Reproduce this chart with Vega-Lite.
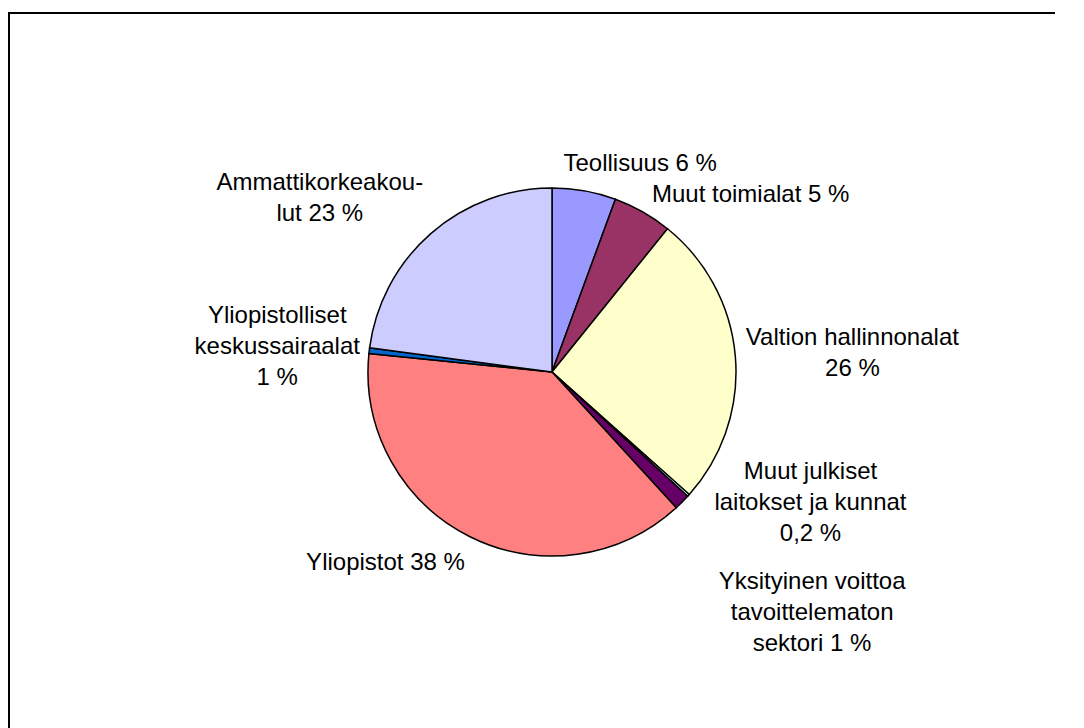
{
  "$schema": "https://vega.github.io/schema/vega-lite/v6.json",
  "width": 1086,
  "height": 718,
  "autosize": {"type": "none"},
  "padding": {"left": 9, "top": 13, "right": -40, "bottom": -3},
  "background": "white",
  "view": {"stroke": "black", "strokeWidth": 2, "fill": "white"},
  "data": {
    "values": [
      {"i": 1, "cat": "Teollisuus", "value": 5.6, "label": "Teollisuus 6 %"},
      {"i": 2, "cat": "Muut toimialat", "value": 5.2, "label": "Muut toimialat 5 %"},
      {"i": 3, "cat": "Valtion hallinnonalat", "value": 25.8, "label": "Valtion hallinnonalat\n26 %"},
      {"i": 4, "cat": "Muut julkiset laitokset ja kunnat", "value": 0.2, "label": "Muut julkiset\nlaitokset ja kunnat\n0,2 %"},
      {"i": 5, "cat": "Yksityinen voittoa tavoittelematon sektori", "value": 1.4, "label": "Yksityinen voittoa\ntavoittelematon\nsektori 1 %"},
      {"i": 6, "cat": "Yliopistot", "value": 38.4, "label": "Yliopistot 38 %"},
      {"i": 7, "cat": "Yliopistolliset keskussairaalat", "value": 0.5, "label": "Yliopistolliset\nkeskussairaalat\n1 %"},
      {"i": 8, "cat": "Ammattikorkeakoulut", "value": 22.9, "label": "Ammattikorkeakou-\nlut 23 %"}
    ]
  },
  "encoding": {
    "theta": {"field": "value", "type": "quantitative", "stack": true},
    "order": {"field": "i", "type": "quantitative"}
  },
  "layer": [
    {
      "mark": {"type": "arc", "outerRadius": 184, "stroke": "black", "strokeWidth": 1.5},
      "encoding": {
        "color": {
          "field": "cat",
          "type": "nominal",
          "legend": null,
          "scale": {
            "domain": ["Teollisuus", "Muut toimialat", "Valtion hallinnonalat", "Muut julkiset laitokset ja kunnat", "Yksityinen voittoa tavoittelematon sektori", "Yliopistot", "Yliopistolliset keskussairaalat", "Ammattikorkeakoulut"],
            "range": ["#9999FF", "#993366", "#FFFFCC", "#CCFFFF", "#660066", "#FF8080", "#0066CC", "#CCCCFF"]
          }
        }
      }
    },
    {
      "mark": {
        "type": "text",
        "radius": 184,
        "font": "Liberation Sans",
        "fontSize": 24,
        "lineHeight": 31,
        "lineBreak": "\n",
        "align": "center",
        "baseline": "middle",
        "fill": "black",
        "dx": {"expr": "datum.i==1?56:datum.i==2?108:datum.i==3?117:datum.i==4?122:datum.i==5?130:datum.i==6?-84:datum.i==7?-92:-111"},
        "dy": {"expr": "datum.i==1?-27:datum.i==2?-17:datum.i==3?-19:datum.i==4?-23:datum.i==5?80:datum.i==6?27:datum.i==7?-35:-51"}
      },
      "encoding": {
        "detail": {"field": "cat", "type": "nominal"},
        "text": {"field": "label", "type": "nominal"}
      }
    }
  ]
}
